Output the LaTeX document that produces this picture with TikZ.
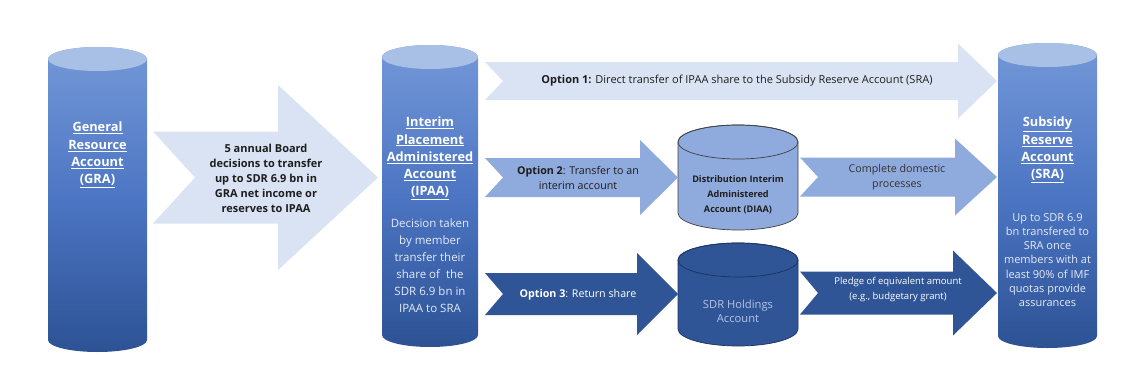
\documentclass[tikz,border=0pt]{standalone}
\usepackage{fontspec}
\setmainfont{Open Sans}
\definecolor{cylTop}{HTML}{7498D8}
\definecolor{cylMid}{HTML}{4C75C3}
\definecolor{cylBot}{HTML}{2D5294}
\definecolor{capC}{HTML}{A8BFE6}
\definecolor{lightA}{HTML}{DAE3F3}
\definecolor{midA}{HTML}{8FAADC}
\definecolor{darkA}{HTML}{2F5597}
\definecolor{bodyTxt}{HTML}{E4EBF7}
\definecolor{sdrTxt}{HTML}{B4C4E4}
\definecolor{blk}{HTML}{1E1E1E}
\newcommand\blockarrow[8]{% x0 xhead xtip ymid shafthalf headhalf notch colour
  \fill[#8] (#1,#4-#5) -- (#2,#4-#5) -- (#2,#4-#6) -- (#3,#4) -- (#2,#4+#6)
    -- (#2,#4+#5) -- (#1,#4+#5) -- (#1+#7,#4) -- cycle;}
\newcommand\cylpath[5]{% x1 x2 ytop ybot ry
  (#1,#3+#5) -- (#1,#4-#5) arc[start angle=180,end angle=0,x radius={(#2-#1)/2}, y radius=#5]
  -- (#2,#3+#5) arc[start angle=0,end angle=-180,x radius={(#2-#1)/2}, y radius=#5] -- cycle}
\newcommand\bigcyl[4]{% x1 x2 ytop ybot
  \shade[top color=cylTop, bottom color=cylBot, middle color=cylMid] \cylpath{#1}{#2}{#3}{#4}{12};
  \fill[capC] ({(#1+#2)/2},#3+12) ellipse[x radius={(#2-#1)/2}, y radius=12];}
\newcommand\smallcyl[6]{% x1 x2 ytop ybot fill line
  \filldraw[fill=#5, draw=#6, line width=0.7pt] \cylpath{#1}{#2}{#3}{#4}{17};
  \draw[#6, line width=0.7pt] ({(#1+#2)/2},#3+17) ellipse[x radius={(#2-#1)/2}, y radius=17];}
\tikzset{
  title/.style={text=white, align=center, inner sep=0pt, font=\bfseries\fontsize{12.8}{17.3}\selectfont},
  body/.style={text=bodyTxt, align=center, inner sep=0pt},
  lbl/.style={align=center, inner sep=0pt, text=blk},
}
\begin{document}
\begin{tikzpicture}[x=1pt,y=-1pt]
\useasboundingbox (0,0) rectangle (1124,388);
% cylinders
\bigcyl{48}{147}{47}{352}
\bigcyl{382}{478}{45}{347}
\bigcyl{998}{1097}{43}{348}
\smallcyl{678}{798}{125}{230}{midA}{black!75}
\smallcyl{678}{798}{243}{346}{darkA}{darkA!60!black}
% block arrows
\blockarrow{153}{278}{378}{177.5}{46}{92.5}{42}{lightA}
\blockarrow{485}{958}{997}{81}{19}{37.5}{18}{lightA}
\blockarrow{485}{640}{678}{177.5}{19.5}{37.5}{18}{midA}
\blockarrow{800}{955}{997}{177}{19.5}{38.5}{18}{midA}
\blockarrow{485}{637}{678}{294}{21}{41}{18}{darkA}
\blockarrow{800}{953}{997}{293}{21.5}{42.5}{18}{darkA}
% texts
\node[title] (gra) at (97.5,155) {\underline{General}\\\underline{Resource}\\\underline{Account}\\\underline{(GRA)}};
\node[title] (ipaa) at (430,158.5) {\underline{Interim}\\\underline{Placement}\\\underline{Administered}\\\underline{Account}\\\underline{(IPAA)}};
\node[body, font=\fontsize{11.5}{17}\selectfont] (ipaab) at (430,265.5) {Decision taken\\by member\\transfer their\\share of~ the\\SDR 6.9 bn in\\IPAA to SRA};
\node[title] (sra) at (1047.5,150) {\underline{Subsidy}\\\underline{Reserve}\\\underline{Account}\\\underline{(SRA)}};
\node[body, font=\fontsize{11}{14.2}\selectfont] (srab) at (1047.5,260) {Up to SDR 6.9\\bn transfered to\\SRA once\\members with at\\least 90\% of IMF\\quotas provide\\assurances};
\node[lbl, font=\bfseries\fontsize{11}{15}\selectfont] (t0) at (266,178) {5 annual Board\\decisions to transfer\\up to SDR 6.9 bn in\\GRA net income or\\reserves to IPAA};
\node[lbl, font=\fontsize{11}{15}\selectfont] (t1) at (737,81) {\textbf{Option 1:} Direct transfer of IPAA share to the Subsidy Reserve Account (SRA)};
\node[lbl, font=\fontsize{10.7}{15}\selectfont] (t2) at (578,177.5) {\textbf{Option 2}: Transfer to an\\interim account};
\node[lbl, font=\bfseries\fontsize{9.1}{15}\selectfont] (diaa) at (738,195) {Distribution Interim\\Administered\\Account (DIAA)};
\node[lbl, font=\fontsize{10.7}{15}\selectfont, text=black!80] (t4) at (897,177.5) {Complete domestic\\processes};
\node[lbl, font=\fontsize{10.7}{15}\selectfont, text=white] (t3) at (578,295) {\textbf{Option 3}: Return share};
\node[lbl, font=\fontsize{11.2}{14}\selectfont, text=sdrTxt] (sdr) at (738,311.5) {SDR Holdings\\Account};
\node[lbl, font=\fontsize{9.5}{15}\selectfont, text=white] (t5) at (898,289.5) {Pledge of equivalent amount\\(e.g., budgetary grant)};
\end{tikzpicture}
\end{document}
